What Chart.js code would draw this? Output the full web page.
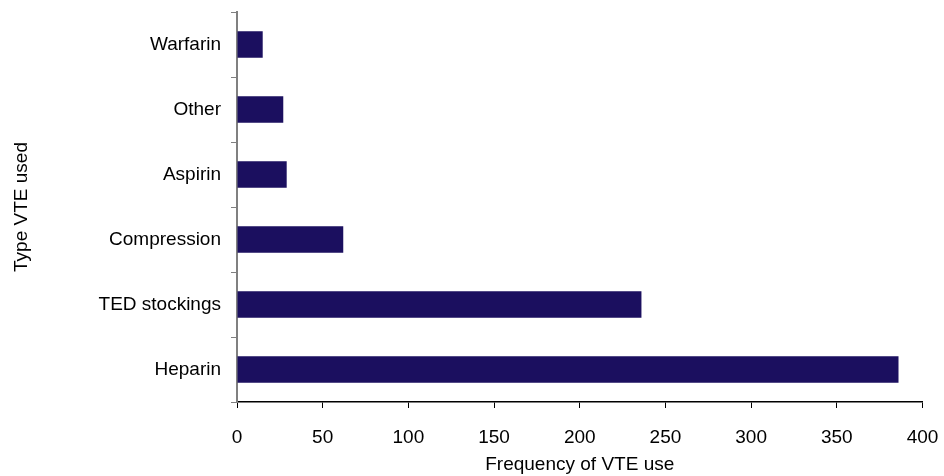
<!DOCTYPE html>
<html>
<head>
<meta charset="utf-8">
<script src="https://cdn.jsdelivr.net/npm/chart.js@4/dist/chart.umd.min.js"></script>
<style>
html,body{margin:0;padding:0;background:#fff;}
#wrap{width:944px;height:476px;position:relative;}
</style>
</head>
<body>
<div id="wrap"><canvas id="c" width="944" height="476"></canvas></div>
<script>
const categories = ['Warfarin', 'Other', 'Aspirin', 'Compression', 'TED stockings', 'Heparin'];
const frequency = [15, 27, 29, 62, 236, 386];
const xTicks = [0, 50, 100, 150, 200, 250, 300, 350, 400];

const FONT = "'Liberation Sans', Arial, sans-serif";
new Chart(document.getElementById('c'), {
  type: 'bar',
  data: {
    labels: categories,
    datasets: [{
      data: frequency,
      backgroundColor: '#1b0f5f',
      borderWidth: 0,
      categoryPercentage: 1,
      barPercentage: 0.41
    }]
  },
  options: {
    indexAxis: 'y',
    responsive: false,
    animation: false,
    layout: { padding: { top: 12, right: 21.5, left: 0, bottom: 0 } },
    plugins: { legend: { display: false }, tooltip: { enabled: false } },
    scales: {
      x: {
        min: xTicks[0],
        max: xTicks[xTicks.length - 1],
        afterBuildTicks: s => { s.ticks = xTicks.map(v => ({ value: v })); },
        afterFit: s => { s.height = 74; s.paddingLeft = 0; s.paddingRight = 0; },
        grid: { drawOnChartArea: false, color: '#000', tickLength: 6, tickColor: '#000' },
        border: { color: '#000', width: 1.5 },
        ticks: { color: '#000', font: { family: FONT, size: 19 }, padding: 18, maxRotation: 0 },
        title: { display: true, text: 'Frequency of VTE use', color: '#000', font: { family: FONT, size: 19 }, padding: { top: 2, bottom: 0 } }
      },
      y: {
        afterFit: s => { s.width = 237; s.paddingTop = 0; s.paddingBottom = 0; },
        grid: { drawOnChartArea: false, offset: true, color: '#808080', tickLength: 6, tickColor: '#808080' },
        border: { color: '#808080', width: 2 },
        ticks: { color: '#000', font: { family: FONT, size: 19 }, padding: 10 },
        title: { display: true, text: 'Type VTE used', color: '#000', font: { family: FONT, size: 19 }, padding: { top: 10, bottom: 0 } }
      }
    }
  }
});
</script>
</body>
</html>
